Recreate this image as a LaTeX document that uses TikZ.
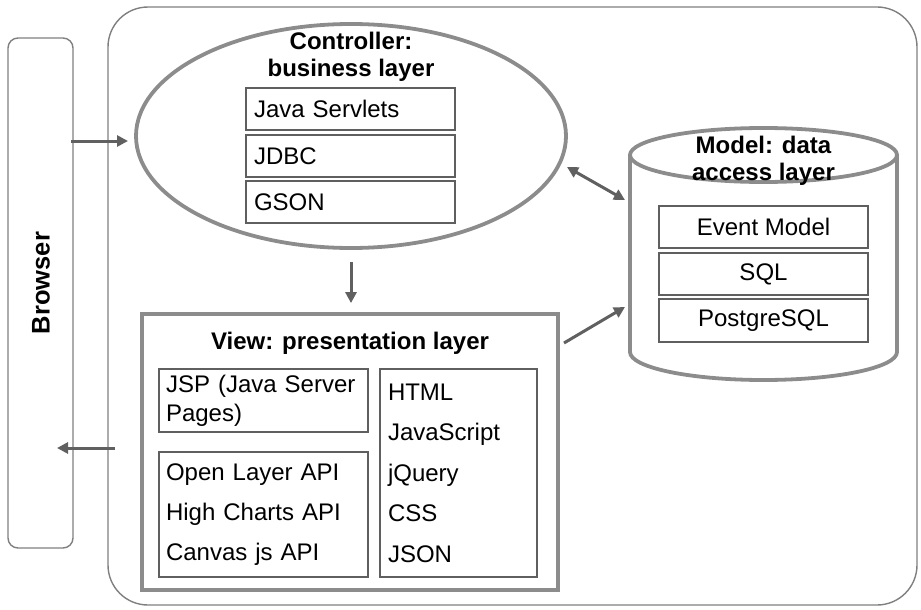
\documentclass[tikz,border=0pt]{standalone}
\usepackage{fontspec}
\setmainfont{Liberation Sans}
\usetikzlibrary{shapes.geometric,arrows.meta}
\definecolor{thing}{HTML}{7F7F7F}
\definecolor{thickg}{HTML}{8C8C8C}
\definecolor{boxg}{HTML}{5F5F5F}
\definecolor{arrg}{HTML}{606060}
\begin{document}
\begin{tikzpicture}[x=1pt,y=-1pt,
  every node/.style={font=\fontsize{24}{27}\selectfont, inner sep=0pt},
  titletext/.style={font=\fontsize{24}{27.5}\selectfont\bfseries, align=center},
  thinbox/.style={draw=thing, line width=1.4pt},
  thickline/.style={draw=thickg, line width=3.8pt},
  itembox/.style={draw=boxg, line width=1.3pt, minimum width=209pt, minimum height=42pt},
  leftitem/.style={itembox, text width=193pt, inner xsep=8pt, align=left},
  arr/.style={draw=arrg, line width=3pt, -{Triangle[length=11pt,width=11pt]}},
  darr/.style={draw=arrg, line width=3pt, {Triangle[length=11pt,width=11pt]}-{Triangle[length=11pt,width=11pt]}}]
\useasboundingbox (0,0) rectangle (921,610);

% outer frame and browser
\node[thinbox, rounded corners=40pt, minimum width=809pt, minimum height=598pt] (outer) at (512.5,306) {};
\node[thinbox, rounded corners=10pt, minimum width=65pt, minimum height=510pt] (browser) at (40.5,293) {};
\node[font=\fontsize{25.5}{27}\selectfont\bfseries, rotate=90] (btext) at (41,283) {Browser};

% controller
\node[thickline, ellipse, minimum width=430pt, minimum height=224pt] (ctrl) at (351,136) {};
\node[titletext] (ctitle) at (351,57) {Controller:\\business layer};
\node[leftitem] (servlets) at (350.5,109) {Java Servlets};
\node[leftitem] (jdbc) at (350.5,156) {JDBC};
\node[leftitem] (gson) at (350.5,202) {GSON};

% model (cylinder)
\node[minimum width=267pt, minimum height=252pt] (model) at (763.5,254) {};
\draw[thickline] (630,155) -- (630,352) arc[start angle=180, end angle=0, x radius=133.5, y radius=28] -- (897,155);
\draw[thickline] (763.5,155) ellipse[x radius=133.5, y radius=27];
\node[titletext] (mtitle) at (763.5,161) {Model: data\\access layer};
\node[itembox] (event) at (763.5,227) {Event Model};
\node[itembox] (sql) at (763.5,274) {SQL};
\node[itembox, minimum height=43pt] (pg) at (763.5,320.5) {PostgreSQL};

% view
\node[thickline, minimum width=416pt, minimum height=276pt] (view) at (350,452) {};
\node[font=\fontsize{24}{27}\selectfont\bfseries] (vtitle) at (350,343) {View: presentation layer};
\node[itembox, minimum height=63pt, text width=195pt, inner xsep=7pt, align=left,
      font=\fontsize{24}{29}\selectfont] (jsp) at (263.5,400.5) {JSP (Java Server\\Pages)};
\node[itembox, minimum height=125pt, text width=195pt, inner xsep=7pt, align=left,
      font=\fontsize{24}{40}\selectfont] (apis) at (263.5,514.5) {Open Layer API\\High Charts API\\Canvas js API};
\node[itembox, minimum width=157pt, minimum height=208pt, text width=141pt, inner xsep=8pt, align=left,
      font=\fontsize{24}{40.5}\selectfont] (web) at (458.5,473) {HTML\\JavaScript\\jQuery\\CSS\\JSON};

% connectors
\coordinate (b1) at (71,141);
\coordinate (c1) at (128,141);
\coordinate (v1) at (115,448);
\coordinate (b2) at (57,448);
\coordinate (c2) at (567,167);
\coordinate (m1) at (625,200);
\coordinate (v2) at (564,343);
\coordinate (m2) at (625,307);
\draw[arr] (b1) -- (c1);
\draw[arr] (v1) -- (b2);
\draw[arr, shorten <=12pt, shorten >=9pt] (ctrl.south) -- (ctrl.south |- view.north);
\draw[darr] (c2) -- (m1);
\draw[arr] (v2) -- (m2);
\end{tikzpicture}
\end{document}
